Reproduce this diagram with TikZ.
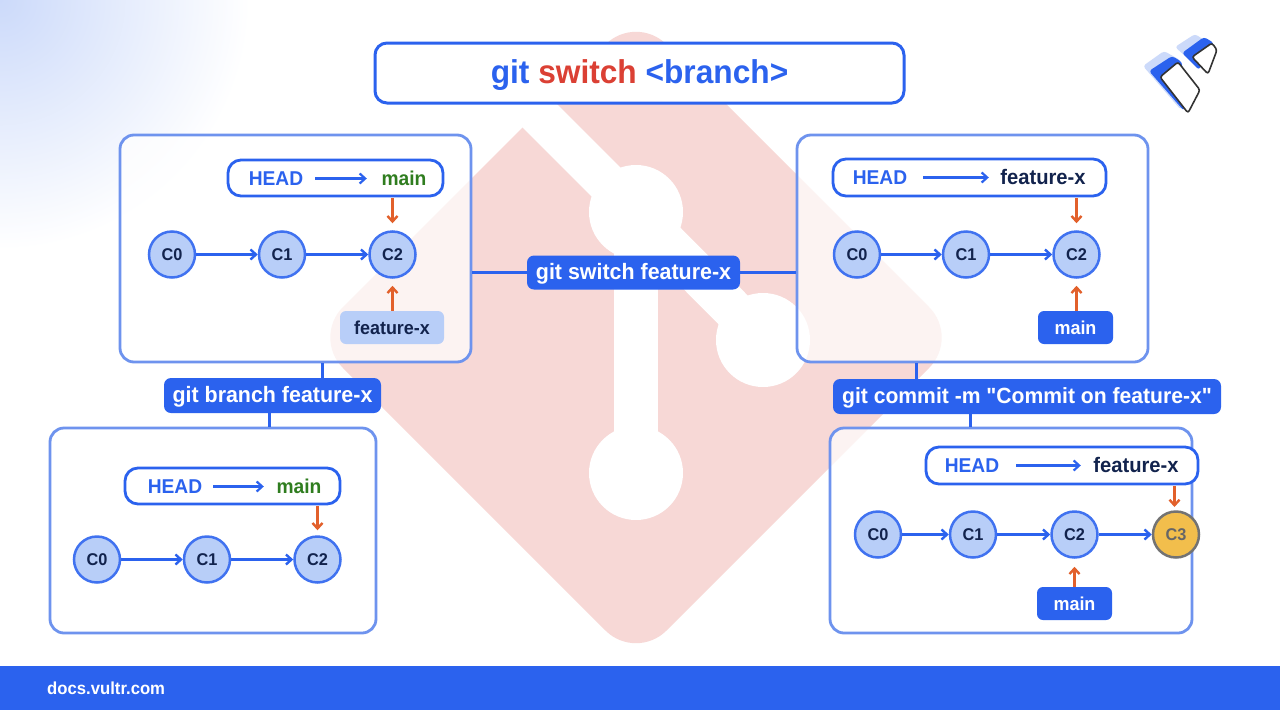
\documentclass[tikz,border=0pt]{standalone}
\usepackage{fontspec}
\setmainfont{Liberation Sans}[FakeStretch=0.96]
\newfontfamily\plainfont{Liberation Sans}[FakeStretch=0.96]
\usetikzlibrary{arrows.meta,calc}
\definecolor{vblue}{HTML}{2B62EE}
\definecolor{vline}{HTML}{6E93EE}
\definecolor{nfill}{HTML}{B8CEF8}
\definecolor{vdark}{HTML}{12234D}
\definecolor{vgreen}{HTML}{2F7D1F}
\definecolor{vorange}{HTML}{E2602B}
\definecolor{vred}{HTML}{DB4034}
\definecolor{vyellow}{HTML}{F2BE4C}
\definecolor{vdiam}{HTML}{F7D8D6}
\definecolor{vglow}{HTML}{CCDAFA}
\tikzset{
  x=1pt,y=-1pt,
  panel/.style={draw=vline,line width=2.8pt,rounded corners=14pt,fill=white,fill opacity=.7,draw opacity=1,inner sep=0pt,text opacity=1},
  titlebox/.style={draw=vblue,line width=3pt,rounded corners=12pt,fill=white,inner sep=0pt,minimum width=529pt,minimum height=60pt,font=\bfseries\fontsize{33}{36}\selectfont,text height=24pt,text depth=4pt},
  headbox/.style={draw=vblue,line width=2.8pt,rounded corners=13pt,fill=white,inner sep=0pt},
  commit/.style={circle,draw=vblue!90!white,line width=2.5pt,fill=nfill,minimum size=46pt,inner sep=0pt,text=vdark,font=\bfseries\fontsize{17}{20}\selectfont},
  cmdlabel/.style={fill=vblue,text=white,rounded corners=7pt,inner sep=0pt,font=\bfseries\fontsize{22.3}{26}\selectfont,text height=17pt,text depth=3pt},
  cmdwide/.style={cmdlabel,font=\bfseries\fontsize{22}{26}\selectfont},
  tagtext/.style={inner sep=0pt,font=\bfseries\fontsize{20}{24}\selectfont,text height=14pt,text depth=0pt},
  tagwide/.style={tagtext,font=\bfseries\fontsize{21}{24}\selectfont},
  reftag/.style={rounded corners=6pt,inner sep=0pt,font=\bfseries\fontsize{18.7}{22}\selectfont,text height=13pt,text depth=0pt,minimum height=33pt},
  chain/.style={draw=vblue,line width=2.8pt,-{Straight Barb[length=5.5pt,width=10pt,line width=2.4pt]}},
  headarrow/.style={draw=vblue,line width=2.5pt,-{Straight Barb[length=5.5pt,width=10pt,line width=2.2pt]}},
  pointer/.style={draw=vorange,line width=2.8pt,-{Straight Barb[length=5.5pt,width=10pt,line width=2.4pt]}},
  link/.style={draw=vblue,line width=2.8pt},
}
\begin{document}
\begin{tikzpicture}
\useasboundingbox (0,0) rectangle (1280,710);
\fill[white] (0,0) rectangle (1280,710);
% corner glow
\begin{scope}
\clip (0,0) rectangle (300,300);
\shade[inner color=vglow,outer color=white] (-250,-250) rectangle (250,250);
\end{scope}
% git logo watermark
\fill[vdiam,rounded corners=43pt] (636,14) -- (959.5,337.5) -- (636,661) -- (312.5,337.5) -- cycle;
\draw[white,line width=41pt] (480,56) -- (636,212) -- (763,340);
\draw[white,line width=44pt] (636,212) -- (636,473);
\fill[white] (636,212) circle (47) (763,340) circle (47) (636,473) circle (47);
% footer
\fill[vblue] (0,666) rectangle (1280,710);
\node[anchor=west,inner sep=0pt,text=white,font=\bfseries\fontsize{17.4}{20}\selectfont] (site) at (47,688) {docs.vultr.com};
% logo
\fill[vglow,rounded corners=3pt] (1143,66) -- (1164,51) -- (1180,60) -- (1181,110) -- cycle;
\fill[vblue,rounded corners=3pt] (1149,71) -- (1172,56) -- (1182,62) -- (1184,111) -- cycle;
\filldraw[fill=white,draw=black!80,line width=1.6pt,rounded corners=2.5pt] (1160,77) -- (1178,62) -- (1200,90) -- (1188,113) -- cycle;
\fill[vglow,rounded corners=3pt] (1175,47) -- (1195,34) -- (1207,42) -- (1192,62) -- cycle;
\fill[vblue,rounded corners=3pt] (1182,53) -- (1204,37) -- (1214,43) -- (1199,70) -- cycle;
\filldraw[fill=white,draw=black!80,line width=1.6pt,rounded corners=2.5pt] (1192,57) -- (1212,43) -- (1217,50) -- (1208,74) -- cycle;
% title
\node[titlebox] (title) at (639.5,73) {\textcolor{vblue}{git} \textcolor{vred}{switch} \textcolor{vblue}{<branch>}};
% panels
\node[panel,minimum width=351pt,minimum height=227pt] (tl) at (295.5,248.5) {};
\node[panel,minimum width=351pt,minimum height=227pt] (tr) at (972.5,248.5) {};
\node[panel,minimum width=326pt,minimum height=205pt] (bl) at (213,530.5) {};
\node[panel,minimum width=362pt,minimum height=205pt] (br) at (1011,530.5) {};
% command labels
\node[cmdlabel,minimum width=217pt,minimum height=35pt] (lbranch) at (272.5,395.5) {git branch feature-x};
\node[cmdlabel,minimum width=213pt,minimum height=34pt] (lswitch) at (633.5,272.5) {git switch feature-x};
\node[cmdwide,minimum width=388pt,minimum height=35pt] (lcommit) at (1027,396.5) {git commit -m {\plainfont\bfseries "}Commit on feature-x{\plainfont\bfseries "}};
\coordinate (ja) at (322.5,378);
\coordinate (jb) at (269.5,413);
\coordinate (jc) at (916.5,379);
\coordinate (jd) at (970.5,414);
\coordinate (je) at (1174.5,507);
\draw[link] (tl.south -| ja) -- (lbranch.north -| ja);
\draw[link] (lbranch.south -| jb) -- (bl.north -| jb);
\draw[link] (tl.east |- lswitch.west) -- (lswitch.west);
\draw[link] (lswitch.east) -- (tr.west |- lswitch.east);
\draw[link] (tr.south -| jc) -- (lcommit.north -| jc);
\draw[link] (lcommit.south -| jd) -- (br.north -| jd);
% --- top left
\node[headbox,minimum width=215pt,minimum height=36pt] (tlhead) at (335.5,178) {};
\node[tagtext,text=vblue,minimum width=78pt] (tlh) at (276,178.5) {HEAD};
\node[tagtext,text=vgreen,minimum width=74pt] (tlm) at (404,178.5) {main};
\draw[headarrow] (tlh.east) -- (tlm.west);
\node[commit] (tl0) at (172,254.5) {C0};
\node[commit] (tl1) at (282,254.5) {C1};
\node[commit] (tl2) at (392.5,254.5) {C2};
\draw[chain] (tl0) -- (tl1);
\draw[chain] (tl1) -- (tl2);
\node[reftag,fill=nfill,text=vdark,minimum width=104pt] (tlf) at (392,327.5) {feature-x};
\draw[pointer,shorten >=7pt,shorten <=1pt] (tlhead.south -| tl2) -- (tl2.north);
\draw[pointer,shorten >=7pt] (tlf.north -| tl2) -- (tl2.south);
% --- top right
\node[headbox,minimum width=273pt,minimum height=37pt] (trhead) at (969.5,177.5) {};
\node[tagtext,text=vblue,minimum width=86pt] (trh) at (880,177.5) {HEAD};
\node[tagwide,text=vdark,minimum width=108pt] (trf) at (1043,177.5) {feature-x};
\draw[headarrow] (trh.east) -- (trf.west);
\node[commit] (tr0) at (857,254.5) {C0};
\node[commit] (tr1) at (966,254.5) {C1};
\node[commit] (tr2) at (1076.5,254.5) {C2};
\draw[chain] (tr0) -- (tr1);
\draw[chain] (tr1) -- (tr2);
\node[reftag,fill=vblue,text=white,minimum width=75pt] (trm) at (1075.5,327.5) {main};
\draw[pointer,shorten >=7pt,shorten <=1pt] (trhead.south -| tr2) -- (tr2.north);
\draw[pointer,shorten >=7pt] (trm.north -| tr2) -- (tr2.south);
% --- bottom left
\node[headbox,minimum width=215pt,minimum height=36pt] (blhead) at (232.5,486) {};
\node[tagtext,text=vblue,minimum width=76pt] (blh) at (175,486.5) {HEAD};
\node[tagtext,text=vgreen,minimum width=70pt] (blm) at (299,486.5) {main};
\draw[headarrow] (blh.east) -- (blm.west);
\node[commit] (bl0) at (97,559.5) {C0};
\node[commit] (bl1) at (207,559.5) {C1};
\node[commit] (bl2) at (317.5,559.5) {C2};
\draw[chain] (bl0) -- (bl1);
\draw[chain] (bl1) -- (bl2);
\draw[pointer,shorten >=5pt,shorten <=1pt] (blhead.south -| bl2) -- (bl2.north);
% --- bottom right
\node[headbox,minimum width=272pt,minimum height=37pt] (brhead) at (1062,465.5) {};
\node[tagtext,text=vblue,minimum width=88pt] (brh) at (972,465.5) {HEAD};
\node[tagwide,text=vdark,minimum width=110pt] (brf) at (1136,465.5) {feature-x};
\draw[headarrow] (brh.east) -- (brf.west);
\node[commit] (br0) at (878,534.5) {C0};
\node[commit] (br1) at (973,534.5) {C1};
\node[commit] (br2) at (1074.5,534.5) {C2};
\node[commit,draw=black!55,fill=vyellow,text=black!60] (br3) at (1176,534.5) {C3};
\draw[chain] (br0) -- (br1);
\draw[chain] (br1) -- (br2);
\draw[chain] (br2) -- (br3);
\node[reftag,fill=vblue,text=white,minimum width=75pt] (brm) at (1074.5,603.5) {main};
\draw[pointer,shorten <=1pt] (brhead.south -| je) -- (je);
\draw[pointer,shorten >=8pt] (brm.north -| br2) -- (br2.south);
\end{tikzpicture}
\end{document}
